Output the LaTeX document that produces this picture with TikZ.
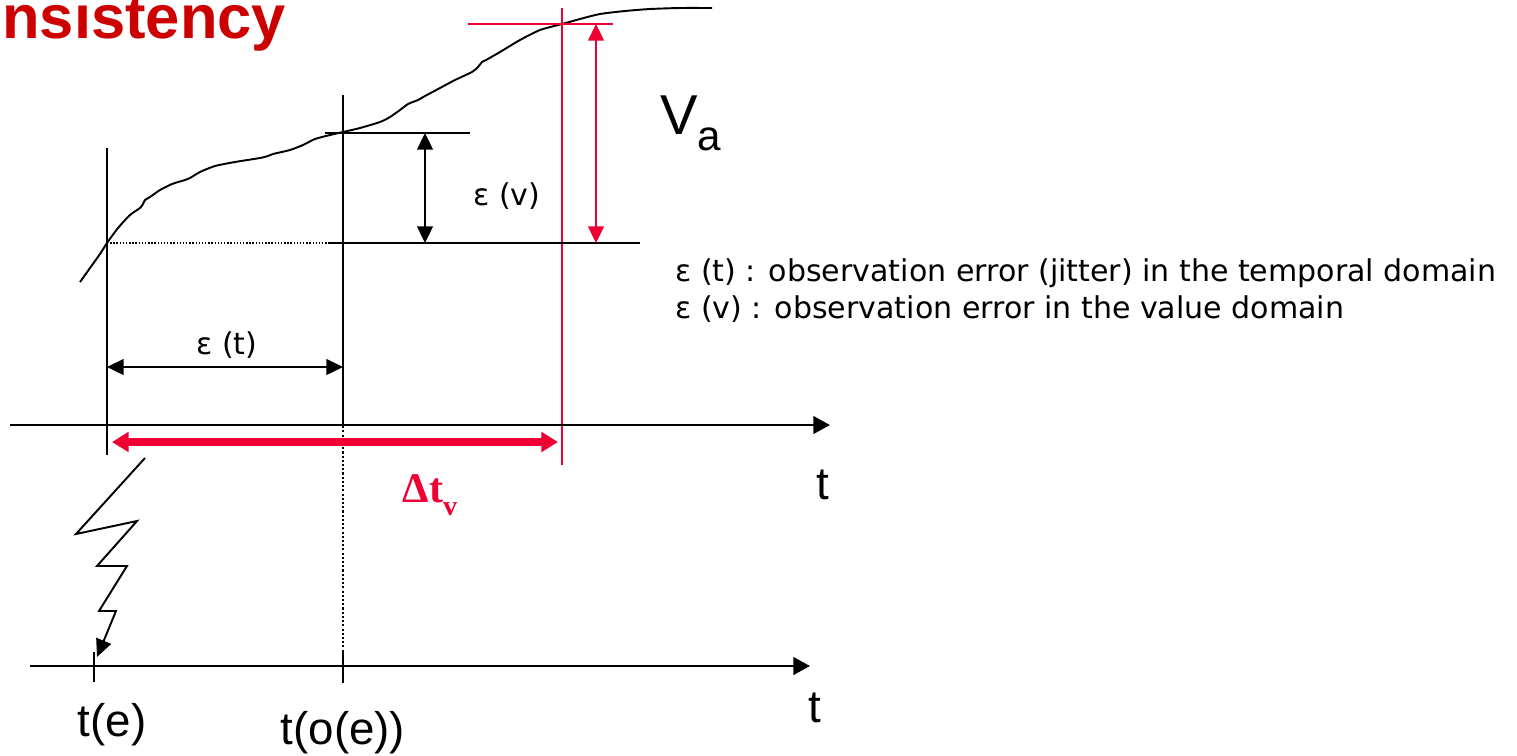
\documentclass[tikz,border=0pt]{standalone}
\usepackage{fontspec}
\setmainfont{Liberation Sans}
\newfontfamily\timesfont{Liberation Serif}
\newfontfamily\notefont{DejaVu Sans}
\usetikzlibrary{arrows.meta}
\definecolor{titlered}{RGB}{204,0,0}
\definecolor{linered}{RGB}{240,0,50}

\begin{document}
\begin{tikzpicture}[x=0.02cm, y=-0.02cm,
    thinline/.style={line width=1.1pt},
    axis/.style={line width=1.5pt, -{Triangle[length=9.5pt,width=10pt]}},
    dimarrow/.style={line width=1.1pt, {Triangle[length=9.5pt,width=9pt]}-{Triangle[length=9.5pt,width=9pt]}},
    legend/.style={font=\notefont\fontsize{17.1}{20}\selectfont, anchor=base west, inner sep=0pt},
    biglabel/.style={font=\fontsize{26}{30}\selectfont, inner sep=0pt}]
    \useasboundingbox (0,0) rectangle (1517,755);
    \node[font=\fontsize{35}{40}\bfseries\selectfont, text=titlered, anchor=base west, inner sep=0pt] (title) at (2,38) {nsistency};
    % Points on the curve
    \coordinate (pe) at (107,243);
    \coordinate (po) at (343,133);
    \coordinate (pv) at (562,24);
    % Value curve
    \draw[thinline] plot[smooth, tension=0.4] coordinates {(80,282) (90,268) (100,254) (107,243) (118,228) (130,215) (140,208) (143,204) (145,200) (150,197) (160,190) (172,184) (185,180) (190,178) (200,172) (215,166) (235,162) (260,158) (268,156) (273,154) (290,150) (303,145) (315,139) (330,135) (343,132) (360,128) (380,122) (390,117) (400,110) (408,104) (418,100) (425,96) (440,88) (455,80) (472,72) (478,67) (482,62) (486,60) (500,52) (520,40) (540,30) (562,24) (580,19) (600,14) (625,11) (650,9) (680,8) (712,8)};
    % Verticals
    \draw[thinline] (107,148) -- (107,455);
    \draw[thinline] (343,95) -- (343,425);
    \draw[thinline, dash pattern=on 1.2pt off 1.2pt] (343,405) -- (343,652);
    \draw[thinline] (343,652) -- (343,683);
    \draw[linered, line width=1pt] (562,8) -- (562,465);
    % Horizontals
    \draw[linered, line width=1.1pt] (468,24) -- (613,24);
    \draw[thinline] (325,133) -- (470,133);
    \draw[thinline] (328,243) -- (640,243);
    \draw[line width=0.7pt, dash pattern=on 0.8pt off 1pt] (pe) -- (328,243);
    % Dimension arrows
    \coordinate (dvtop) at (425,133);
    \coordinate (dvbot) at (425,243);
    \draw[dimarrow] (dvtop) -- (dvbot);
    \coordinate (vatop) at (596,24);
    \coordinate (vabot) at (596,243);
    \draw[dimarrow, linered] (vatop) -- (vabot);
    \coordinate (dtl) at (107,367);
    \coordinate (dtr) at (343,367);
    \draw[dimarrow] (dtl) -- (dtr);
    \node[legend, anchor=center] (epsv) at (507,196) {ε (v)};
    \node[legend, anchor=center] (epst) at (227,345) {ε (t)};
    \node[anchor=base west, inner sep=0pt] (va) at (660,134) {\fontsize{32}{36}\selectfont V\raisebox{-0.3em}{\fontsize{24}{28}\selectfont a}};
    % Legend
    \node[legend] (leg1) at (675,281) {ε (t) : observation error (jitter) in the temporal domain};
    \node[legend] (leg2) at (675,318) {ε (v) : observation error in the value domain};
    % Time axes
    \coordinate (ax1s) at (10,425);
    \coordinate (ax1e) at (830,425);
    \draw[axis] (ax1s) -- (ax1e);
    \coordinate (ax2s) at (30,666);
    \coordinate (ax2e) at (810,666);
    \draw[axis] (ax2s) -- (ax2e);
    \draw[thinline] (94,652) -- (94,682);
    % Validity interval
    \coordinate (dvl) at (112,442);
    \coordinate (dvr) at (558,442);
    \draw[linered, line width=4pt, {Triangle[length=9.5pt,width=11pt]}-{Triangle[length=9.5pt,width=11pt]}] (dvl) -- (dvr);
    \node[text=linered, inner sep=0pt] (dtv) at (430,495) {\timesfont\bfseries\fontsize{24}{28}\selectfont Δt\raisebox{-0.3em}{\fontsize{16}{18}\selectfont v}};
    % Event flash
    \draw[thinline, -{Triangle[length=10pt,width=9pt]}] (145,458) -- (76,534) -- (137,521) -- (97,566) -- (127,566) -- (99,611) -- (116,611) -- (97,657);
    % Labels
    \node[biglabel] (t1) at (823,485) {t};
    \node[biglabel] (t2) at (815,708) {t};
    \node[biglabel] (te) at (112,725) {t(e)};
    \node[biglabel] (toe) at (343,733) {t(o(e))};
\end{tikzpicture}
\end{document}
